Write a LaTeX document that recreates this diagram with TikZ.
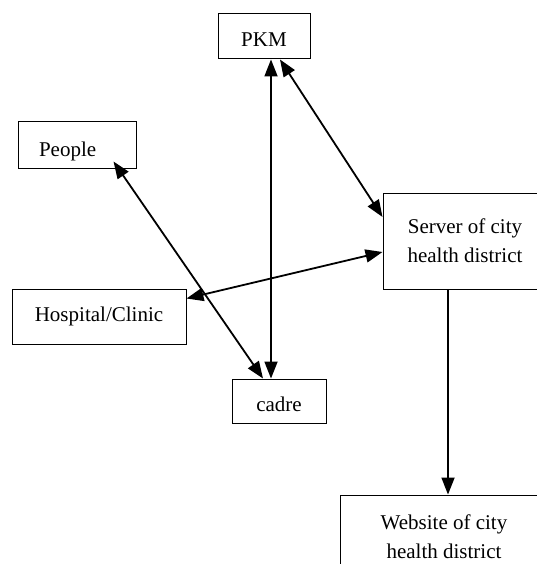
\documentclass[tikz,border=0pt]{standalone}
\usepackage{fontspec}
\setmainfont{Liberation Serif}
\usetikzlibrary{arrows.meta,positioning}

\tikzset{box/.style={draw, line width=1pt, inner sep=0pt, align=center, font=\fontsize{21}{29}\selectfont},
  link/.style={line width=1.8pt, {Triangle[length=17pt,width=13pt]}-{Triangle[length=17pt,width=13pt]}},
  feed/.style={line width=1.8pt, -{Triangle[length=17pt,width=13pt]}}}

\begin{document}
\begin{tikzpicture}[x=1pt,y=-1pt]
\useasboundingbox (0,0) rectangle (536,564);

\node[box, text width=76pt, align=left, inner xsep=21pt, inner ysep=11pt, text height=24pt, text depth=0pt] (people) at (77,145) {People};
\node[box, minimum width=92, minimum height=45, text height=21pt] (pkm) at (264,36.5) {PKM};
\node[box, minimum width=164, minimum height=96] (server) at (465,241) {Server of city\\health district};
\node[box, minimum width=174, minimum height=55] (hospital) at (99,316.5) {Hospital/Clinic};
\node[box, minimum width=94, minimum height=44, text height=22pt] (cadre) at (279,401) {cadre};
\node[box, minimum width=208, minimum height=90, text depth=6pt] (website) at (444,540) {Website of city\\health district};

\draw[link] ([xshift=7pt]pkm.south) -- ([xshift=-8pt]cadre.north);
\draw[link] ([xshift=16pt]pkm.south) -- ([yshift=24pt]server.west);
\draw[link] ([xshift=-23pt,yshift=7pt]people.south east) -- ([xshift=-16pt]cadre.north);
\draw[link] ([yshift=18pt]hospital.east) -- ([yshift=-11pt]server.west);

\draw[feed] ([xshift=-17pt]server.south) -- ([xshift=-17pt]server.south |- website.north);

\end{tikzpicture}
\end{document}
